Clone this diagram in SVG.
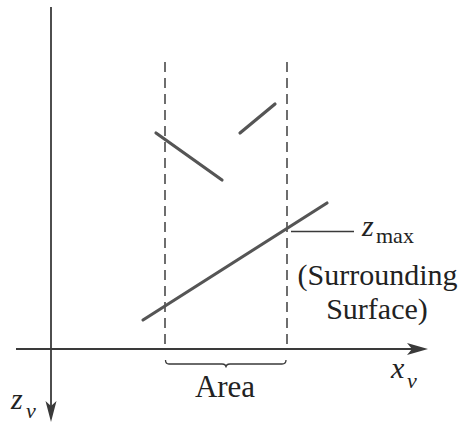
<svg xmlns="http://www.w3.org/2000/svg" width="465" height="428" viewBox="0 0 465 428">
<rect width="465" height="428" fill="#fff"/>
<g id="connectors" fill="none">
<g id="axes" stroke="#3a3a3a" stroke-width="1.8">
<line x1="51" y1="7" x2="51" y2="410"/>
<line x1="16" y1="349" x2="416" y2="349"/>
</g>
<g id="arrowheads" fill="#3a3a3a">
<path d="M51,422 L45.5,401 L51,406 L56.5,401 Z"/>
<path d="M428,349 L407,343 L412,349 L407,355 Z"/>
</g>
<g id="dashed" stroke="#4a4a4a" stroke-width="1.6" stroke-dasharray="10 6">
<line x1="165" y1="62" x2="165" y2="349"/>
<line x1="287" y1="62" x2="287" y2="349"/>
</g>
<g id="thin" stroke="#3a3a3a" stroke-width="1.3">
<path d="M165.5,360 Q165.5,364 169,364 L222,364 Q226,364 226,367.5 Q226,364 230,364 L282,364 Q286,364 286,360"/>
<line x1="291" y1="231.5" x2="354" y2="231.5"/>
</g>
</g>
<g id="surfaces" stroke="#555" stroke-width="3.2" stroke-linecap="round">
<g id="surface1"><line x1="156" y1="133" x2="222" y2="180"/></g>
<g id="surface2"><line x1="240" y1="133" x2="275" y2="104"/></g>
<g id="surface3"><line x1="143" y1="320" x2="327" y2="203"/></g>
</g>
<g id="labels" style="font-family:'Liberation Serif','Times New Roman',serif" fill="#222">
<text x="362" y="236" font-size="30" font-style="italic" style="font-family:'Liberation Serif',serif">z</text>
<text x="376" y="243" font-size="22" style="font-family:'Liberation Serif',serif">max</text>
<text x="377.5" y="285" font-size="30" text-anchor="middle" style="font-family:'Liberation Serif',serif">(Surrounding</text>
<text x="377" y="319" font-size="30" text-anchor="middle" style="font-family:'Liberation Serif',serif">Surface)</text>
<text x="225" y="397" font-size="31" text-anchor="middle" style="font-family:'Liberation Serif',serif">Area</text>
<text x="391" y="378" font-size="30" font-style="italic" style="font-family:'Liberation Serif',serif">x</text>
<text x="407" y="388" font-size="22" font-style="italic" style="font-family:'Liberation Serif',serif">v</text>
<text x="11" y="409" font-size="30" font-style="italic" style="font-family:'Liberation Serif',serif">z</text>
<text x="26" y="418" font-size="22" font-style="italic" style="font-family:'Liberation Serif',serif">v</text>
</g>
</svg>
